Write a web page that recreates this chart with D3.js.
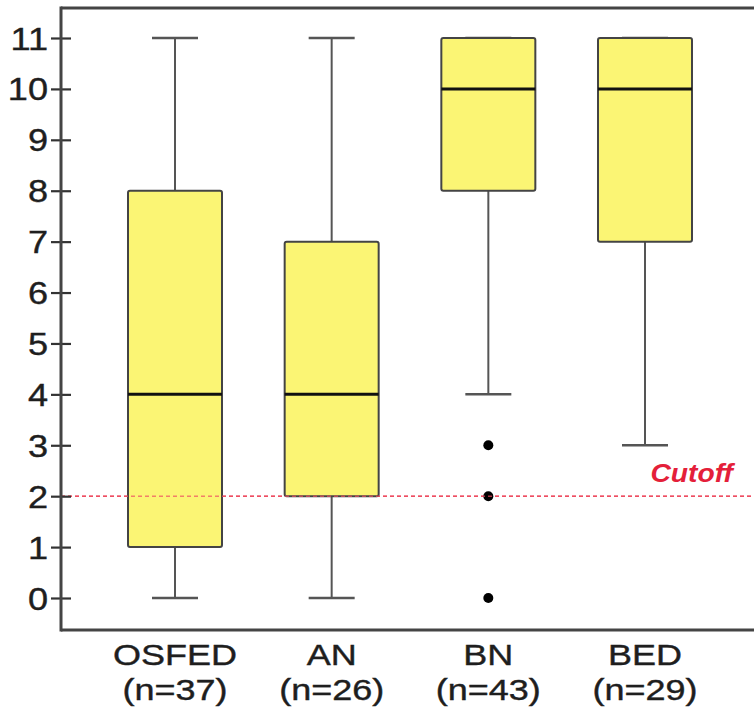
<!DOCTYPE html>
<html><head><meta charset="utf-8">
<script src="https://cdn.jsdelivr.net/npm/d3@7"></script>
<style>body{margin:0;background:#fff}svg{display:block}</style>
</head><body>
<script>
const categories = ["OSFED","AN","BN","BED"];
const counts = [37,26,43,29];
const whiskerLow = [0,0,4,3];
const q1 = [1,2,8,7];
const medians = [4,4,10,10];
const q3 = [8,7,11,11];
const whiskerHigh = [11,11,11,11];
const outliers = [[],[],[3,2,0],[]];
const yTicks = [0,1,2,3,4,5,6,7,8,9,10,11];
const cutoff = 2;

const W=754,H=708;
const svg=d3.select("body").append("svg").attr("width",W).attr("height",H);
const mLeft=61, mRight=760, mTop=8, mBottom=630;
const y=d3.scaleLinear().domain([0,11]).range([598,38]);
const x=d3.scalePoint().domain(categories).range([175,645]);
const bw=94, cw=46;
const FONT="Liberation Sans, Arial, sans-serif";
const SX=1.13;

svg.append("line").attr("x1",mLeft).attr("x2",mRight).attr("y1",mTop).attr("y2",mTop)
  .attr("stroke","#444").attr("stroke-width",3);

svg.append("line").attr("x1",mLeft).attr("x2",mRight).attr("y1",y(cutoff)).attr("y2",y(cutoff))
  .attr("stroke","#ee4f63").attr("stroke-width",1.6).attr("stroke-dasharray","4,3");
svg.append("text").attr("transform",`translate(733,482) scale(${SX},1)`).attr("text-anchor","end")
  .attr("font-family",FONT).attr("font-size",25)
  .attr("font-weight","bold").attr("font-style","italic").attr("fill","#e41f3a").text("Cutoff");

const g=svg.append("g");
categories.forEach((c,i)=>{
  const cx=x(c);
  g.append("line").attr("x1",cx).attr("x2",cx).attr("y1",y(whiskerHigh[i])).attr("y2",y(q3[i])).attr("stroke","#555").attr("stroke-width",2);
  g.append("line").attr("x1",cx).attr("x2",cx).attr("y1",y(whiskerLow[i])).attr("y2",y(q1[i])).attr("stroke","#555").attr("stroke-width",2);
  g.append("line").attr("x1",cx-cw/2).attr("x2",cx+cw/2).attr("y1",y(whiskerHigh[i])).attr("y2",y(whiskerHigh[i])).attr("stroke","#555").attr("stroke-width",2.5);
  g.append("line").attr("x1",cx-cw/2).attr("x2",cx+cw/2).attr("y1",y(whiskerLow[i])).attr("y2",y(whiskerLow[i])).attr("stroke","#555").attr("stroke-width",2.5);
  g.append("rect").attr("x",cx-bw/2).attr("width",bw).attr("y",y(q3[i])).attr("height",y(q1[i])-y(q3[i]))
    .attr("rx",2).attr("fill","#fbf574").attr("stroke","#444").attr("stroke-width",2);
  g.append("line").attr("x1",cx-bw/2).attr("x2",cx+bw/2).attr("y1",y(medians[i])).attr("y2",y(medians[i])).attr("stroke","#111").attr("stroke-width",3);
  outliers[i].forEach(v=>{
    g.append("circle").attr("cx",cx).attr("cy",y(v)).attr("r",5).attr("fill","#000");
  });
});

svg.append("line").attr("x1",mLeft).attr("x2",mRight).attr("y1",y(cutoff)).attr("y2",y(cutoff))
  .attr("stroke","#ee4f63").attr("stroke-opacity",0.7).attr("stroke-width",1.6).attr("stroke-dasharray","4,3");

const ya=svg.append("g").attr("transform",`translate(${mLeft},0)`)
  .call(d3.axisLeft(y).tickValues(yTicks).tickSize(10).tickSizeOuter(0).tickPadding(4));
ya.select(".domain").remove();
ya.selectAll(".tick line").attr("x2",-10).attr("x1",10).attr("stroke","#333").attr("stroke-width",2.2);
ya.selectAll(".tick text").attr("x",null).attr("dy",null)
  .attr("transform",`translate(-13,11) scale(${SX},1)`)
  .attr("font-size",32).attr("fill","#1e1e1e").attr("stroke","#1e1e1e").attr("stroke-width",0.4)
  .attr("font-family",FONT);
svg.append("line").attr("x1",mLeft).attr("x2",mLeft).attr("y1",mTop-1.5).attr("y2",mBottom+1.5)
  .attr("stroke","#444").attr("stroke-width",3);
svg.append("line").attr("x1",mLeft).attr("x2",mRight).attr("y1",mBottom).attr("y2",mBottom)
  .attr("stroke","#444").attr("stroke-width",3);

categories.forEach((c,i)=>{
  [[c,665],[`(n=${counts[i]})`,700]].forEach(([s,yy])=>{
    svg.append("text").attr("transform",`translate(${x(c)},${yy}) scale(1.2,1)`)
      .attr("text-anchor","middle").attr("font-family",FONT).attr("font-size",30)
      .attr("fill","#1e1e1e").attr("stroke","#1e1e1e").attr("stroke-width",0.4).text(s);
  });
});
</script>
</body></html>
